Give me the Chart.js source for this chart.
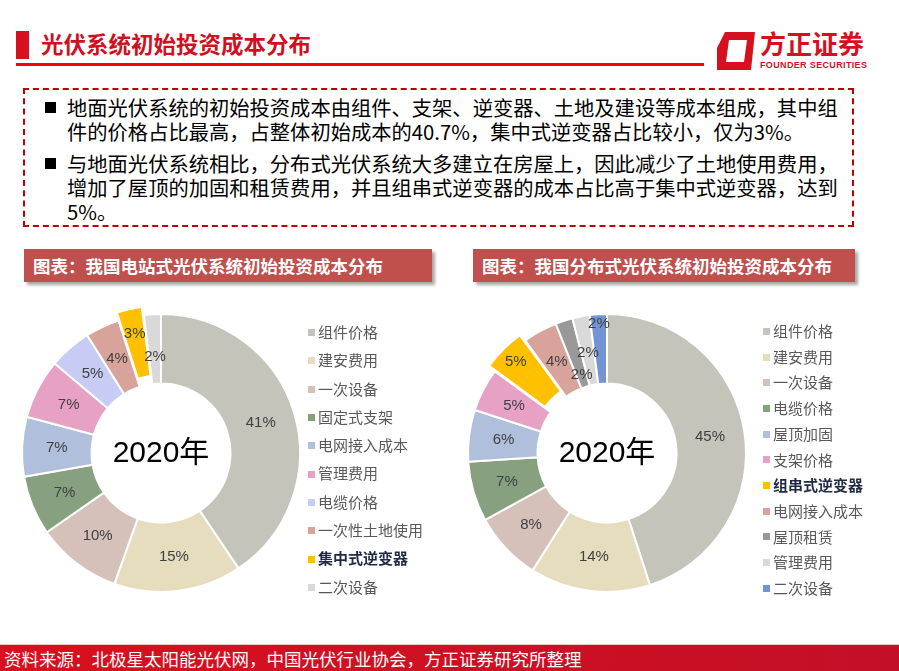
<!DOCTYPE html>
<html>
<head>
<meta charset="utf-8">
<script src="https://cdn.jsdelivr.net/npm/chart.js@4"></script>
<style>
  body { margin: 0; width: 899px; height: 671px; position: relative; overflow: hidden; background: #fff;
         font-family: "Noto Sans CJK SC", sans-serif; }
  .abs { position: absolute; }
  #titleBar { left: 16px; top: 31px; width: 13px; height: 28px; background: #d7101f; }
  #title { left: 41px; top: 27px; font-size: 22.5px; font-weight: bold; color: #d0101e; line-height: 32px; white-space: nowrap; }
  #rule { left: 16px; top: 63px; width: 688px; height: 3px; background: #f00; }
  #logoText { left: 760px; top: 27px; font-size: 26px; font-weight: bold; color: #d7101f; line-height: 32px; white-space: nowrap; }
  #logoSub { left: 760px; top: 60px; font-family: "Liberation Sans", Arial, sans-serif; font-size: 9px; font-weight: bold; color: #d7101f; white-space: nowrap; line-height: 10px; letter-spacing: 0.35px; }
  #box { left: 23px; top: 88px; width: 831px; height: 139px; border: 2px dashed #c00000; box-sizing: border-box; }
  .para { position: absolute; left: 67px; width: 777px; font-size: 20.3px; line-height: 24px; color: #000; }
  .para::before { content: ""; position: absolute; left: -22px; top: 7px; width: 11px; height: 11px; background: #000; }
  .banner { position: absolute; top: 249px; height: 33px; background: #c0504d; color: #fff; font-size: 17.5px; font-weight: bold;
            line-height: 33px; padding-left: 9px; box-sizing: border-box; box-shadow: 3px 3px 3px rgba(0,0,0,0.35); white-space: nowrap; }
  canvas { position: absolute; }
  .legend { position: absolute; font-size: 15px; color: #595959; white-space: nowrap; z-index: 2; }
  .legend div { position: relative; padding-left: 10px; }
  .legend span { position: absolute; left: 0; width: 7px; height: 7px; }
  #footer { left: 0; top: 644px; width: 899px; height: 27px; background: linear-gradient(90deg, #d9101e, #c40f28);
            border-top: 1px solid #e8c8c8; color: #fff; font-size: 17.5px; line-height: 27px; padding-left: 4px; box-sizing: border-box; white-space: nowrap; }
</style>
</head>
<body>
<div id="titleBar" class="abs"></div>
<div id="title" class="abs">光伏系统初始投资成本分布</div>
<div id="rule" class="abs"></div>
<svg class="abs" style="left:717px;top:32px" width="40" height="38" viewBox="0 0 40 38">
  <polygon points="8,0 38,0 34,38 0,38 0,16" fill="#d7101f"/>
  <polygon points="12,8 30,8 27,30 9,30" fill="#fff"/>
</svg>
<div id="logoText" class="abs">方正证券</div>
<div id="logoSub" class="abs">FOUNDER SECURITIES</div>

<div id="box" class="abs"></div>
<div class="para" style="top:95px">地面光伏系统的初始投资成本由组件、支架、逆变器、土地及建设等成本组成，其中组件的价格占比最高，占整体初始成本的40.7%，集中式逆变器占比较小，仅为3%。</div>
<div class="para" style="top:151px">与地面光伏系统相比，分布式光伏系统大多建立在房屋上，因此减少了土地使用费用，增加了屋顶的加固和租赁费用，并且组串式逆变器的成本占比高于集中式逆变器，达到5%。</div>

<div class="banner" style="left:24px;width:408px">图表：我国电站式光伏系统初始投资成本分布</div>
<div class="banner" style="left:473px;width:382px">图表：我国分布式光伏系统初始投资成本分布</div>

<canvas id="leftChart" width="340" height="340" style="left:-9px;top:283px"></canvas>
<canvas id="rightChart" width="340" height="340" style="left:437px;top:283px"></canvas>
<div id="leftLegend" class="legend" style="left:308px;top:318px;line-height:28.3px"></div>
<div id="rightLegend" class="legend" style="left:763px;top:318px;line-height:25.7px"></div>

<div id="footer" class="abs">资料来源：北极星太阳能光伏网，中国光伏行业协会，方正证券研究所整理</div>

<script>
// 电站式 (ground-mounted)
const leftLabels = ['组件价格', '建安费用', '一次设备', '固定式支架', '电网接入成本', '管理费用', '电缆价格', '一次性土地使用', '集中式逆变器', '二次设备'];
const leftValues = [41, 15, 10, 7, 7, 7, 5, 4, 3, 2];
const leftColors = ['#c5c4ba', '#e6ddbe', '#d5c1b9', '#87a07f', '#b0c0dc', '#e6a1c5', '#c6ccf4', '#d8a39a', '#ffc000', '#d9d9d9'];
const leftHighlight = 8;

// 分布式 (distributed)
const rightLabels = ['组件价格', '建安费用', '一次设备', '电缆价格', '屋顶加固', '支架价格', '组串式逆变器', '电网接入成本', '屋顶租赁', '管理费用', '二次设备'];
const rightValues = [45, 14, 8, 7, 6, 5, 5, 4, 2, 2, 2];
const rightColors = ['#c5c4ba', '#e6ddbe', '#d5c1b9', '#87a07f', '#b0c0dc', '#e6a1c5', '#ffc000', '#d8a39a', '#999999', '#d9d9d9', '#7393d5'];
const rightHighlight = 6;

const centerText = '2020年';

// label radius overrides (px from centre) for crowded slices
const leftLabelR = {8: 122, 9: 96};
const rightLabelR = {6: 129, 8: 82, 9: 102, 10: 129};

const sliceLabels = {
  id: 'sliceLabels',
  afterDatasetsDraw(chart, args, opts) {
    const ctx = chart.ctx;
    const meta = chart.getDatasetMeta(0);
    const values = chart.data.datasets[0].data;
    ctx.save();
    ctx.textAlign = 'center';
    ctx.textBaseline = 'middle';
    ctx.font = '15px "Liberation Sans", Arial, sans-serif';
    ctx.fillStyle = '#404040';
    meta.data.forEach((arc, i) => {
      const p = arc.getProps(['x', 'y', 'startAngle', 'endAngle', 'innerRadius', 'outerRadius']);
      const mid = (p.startAngle + p.endAngle) / 2;
      const r = opts.radii[i] || (p.innerRadius + p.outerRadius + arc.options.offset) / 2;
      ctx.fillText(values[i] + '%', p.x + Math.cos(mid) * r, p.y + Math.sin(mid) * r);
    });
    ctx.font = '30px "Liberation Sans", "Noto Sans CJK SC", sans-serif';
    ctx.fillStyle = '#000';
    ctx.fillText(opts.text, meta.data[0].x, meta.data[0].y + 1);
    ctx.restore();
  }
};

function makeDoughnut(id, labels, values, colors, highlight, radii) {
  new Chart(document.getElementById(id), {
    type: 'doughnut',
    data: {
      labels: labels,
      datasets: [{
        data: values,
        backgroundColor: colors,
        borderColor: '#fff',
        borderWidth: 2,
        offset: values.map((v, i) => i === highlight ? 18 : 0)
      }]
    },
    options: {
      responsive: false,
      animation: false,
      radius: 139,
      cutout: '50%',
      layout: { padding: 0 },
      plugins: {
        legend: { display: false },
        tooltip: { enabled: false },
        sliceLabels: { radii: radii, text: centerText }
      }
    },
    plugins: [sliceLabels]
  });
}

function makeLegend(id, labels, colors, highlight) {
  const box = document.getElementById(id);
  labels.forEach((name, i) => {
    const row = document.createElement('div');
    row.innerHTML = '<span style="background:' + colors[i] + ';top:calc(50% - 3px)"></span>' + name;
    if (i === highlight) { row.style.fontWeight = 'bold'; row.style.color = '#1f2a44'; }
    box.appendChild(row);
  });
}

document.addEventListener('DOMContentLoaded', function() {
  makeDoughnut('leftChart', leftLabels, leftValues, leftColors, leftHighlight, leftLabelR);
  makeDoughnut('rightChart', rightLabels, rightValues, rightColors, rightHighlight, rightLabelR);
  makeLegend('leftLegend', leftLabels, leftColors, leftHighlight);
  makeLegend('rightLegend', rightLabels, rightColors, rightHighlight);
});
</script>
</body>
</html>
